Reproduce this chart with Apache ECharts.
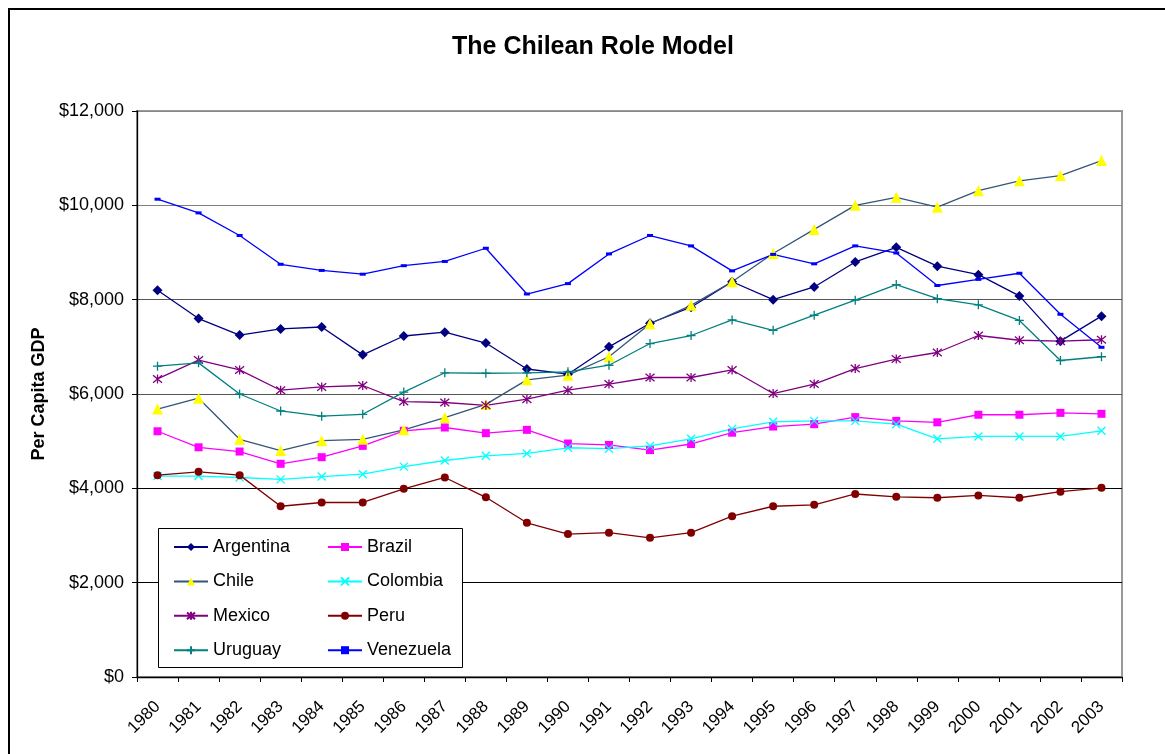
<!DOCTYPE html>
<html>
<head>
<meta charset="utf-8">
<title>The Chilean Role Model</title>
<script src="https://cdn.jsdelivr.net/npm/echarts@6/dist/echarts.min.js"></script>
<style>
  html, body { margin: 0; padding: 0; background: #fff; }
  #chart { width: 1165px; height: 754px; }
</style>
</head>
<body>
<div id="chart"></div>
<script>
// Per capita GDP (US$), 1980-2003
const years = ['1980','1981','1982','1983','1984','1985','1986','1987','1988','1989','1990','1991',
               '1992','1993','1994','1995','1996','1997','1998','1999','2000','2001','2002','2003'];

const argentina = [8200,7600,7250,7380,7420,6830,7230,7310,7080,6530,6420,7000,
                   7500,7840,8380,8000,8270,8800,9110,8710,8530,8080,7120,7650];
const brazil    = [5210,4870,4780,4520,4660,4900,5220,5290,5170,5240,4950,4920,
                   4810,4940,5180,5310,5360,5510,5430,5400,5560,5560,5600,5580];
const chile     = [5680,5910,5040,4800,5010,5040,5240,5500,5780,6300,6400,6790,
                   7490,7880,8380,8980,9490,10000,10170,9960,10310,10520,10630,10950];
const colombia  = [4260,4260,4230,4190,4250,4300,4460,4590,4690,4740,4860,4840,
                   4900,5050,5260,5410,5430,5430,5360,5050,5100,5100,5100,5220];
const mexico    = [6320,6720,6510,6080,6150,6180,5840,5820,5760,5890,6080,6210,
                   6350,6350,6510,6010,6210,6540,6740,6880,7240,7140,7120,7150];
const peru      = [4280,4350,4280,3620,3700,3700,3990,4230,3810,3270,3030,3060,
                   2950,3060,3410,3620,3650,3880,3820,3800,3850,3800,3930,4010];
const uruguay   = [6590,6660,6000,5640,5530,5570,6040,6450,6440,6450,6470,6610,
                   7070,7240,7570,7350,7670,7990,8320,8020,7890,7560,6710,6790];
const venezuela = [10130,9840,9360,8750,8620,8540,8720,8810,9090,8120,8340,8970,
                   9360,9140,8610,8960,8760,9140,8990,8300,8430,8560,7690,6990];

const yTicks = [0, 2000, 4000, 6000, 8000, 10000, 12000];

const FONT = '"Liberation Sans", Arial, sans-serif';

// stroked marker outlines
const X_MARK = 'path://M0,0L10,10M10,0L0,10';
const STAR_MARK = 'path://M0,0L10,10M10,0L0,10M5,-1L5,11';
const PLUS_MARK = 'path://M5,0L5,10M0,5L10,5';

function lineSeries(name, data, lineColor, symbol, size, itemStyle) {
  return {
    name: name,
    type: 'line',
    data: data,
    symbol: symbol,
    symbolSize: size,
    showAllSymbol: true,
    lineStyle: { color: lineColor, width: 1.3 },
    itemStyle: itemStyle,
    emphasis: { disabled: true },
    z: 3
  };
}

const series = [
  lineSeries('Argentina', argentina, '#000080', 'diamond', 10, { color: '#000080' }),
  lineSeries('Brazil', brazil, '#FF00FF', 'rect', 8, { color: '#FF00FF' }),
  lineSeries('Chile', chile, '#34557a', 'triangle', 11, { color: '#FFFF00' }),
  lineSeries('Colombia', colombia, '#00FFFF', X_MARK, 8, { color: 'transparent', borderColor: '#00FFFF', borderWidth: 1.3 }),
  lineSeries('Mexico', mexico, '#800080', STAR_MARK, 9, { color: 'transparent', borderColor: '#800080', borderWidth: 1.3 }),
  lineSeries('Peru', peru, '#800000', 'circle', 8, { color: '#800000' }),
  lineSeries('Uruguay', uruguay, '#008080', PLUS_MARK, 9, { color: 'transparent', borderColor: '#008080', borderWidth: 1.3 }),
  lineSeries('Venezuela', venezuela, '#0000FF', 'rect', [6, 3], { color: '#0000FF' })
];

const legendCommon = {
  orient: 'vertical',
  top: 537,
  padding: 0,
  itemWidth: 34,
  itemHeight: 10,
  itemGap: 14.4,
  selectedMode: false,
  z: 30,
  textStyle: { fontFamily: FONT, fontSize: 18, color: '#000', lineHeight: 20 }
};

const chart = echarts.init(document.getElementById('chart'), null, { renderer: 'canvas' });

chart.setOption({
  animation: false,
  backgroundColor: '#fff',
  title: {
    text: 'The Chilean Role Model',
    left: 452,
    top: 35,
    padding: 0,
    textStyle: { fontFamily: FONT, fontSize: 25, fontWeight: 'bold', color: '#000' }
  },
  legend: [
    Object.assign({}, legendCommon, { left: 173, data: ['Argentina', 'Chile', 'Mexico', 'Uruguay'] }),
    Object.assign({}, legendCommon, { left: 327, data: ['Brazil', 'Colombia', 'Peru', 'Venezuela'] })
  ],
  grid: {
    left: 137, right: 43, top: 111, bottom: 77,
    show: true, borderColor: '#999', borderWidth: 2, backgroundColor: 'transparent'
  },
  xAxis: {
    type: 'category',
    data: years,
    boundaryGap: true,
    axisLine: { lineStyle: { color: '#000', width: 1.3 } },
    axisTick: { show: true, interval: 0, length: 5, lineStyle: { color: '#000' } },
    axisLabel: { interval: 0, rotate: 45, margin: 27, fontFamily: FONT, fontSize: 17, color: '#000' },
    splitLine: { show: false }
  },
  yAxis: {
    type: 'value',
    min: yTicks[0],
    max: yTicks[yTicks.length - 1],
    interval: 2000,
    name: 'Per Capita GDP',
    nameLocation: 'middle',
    nameGap: 89,
    nameTextStyle: { fontFamily: FONT, fontSize: 18, fontWeight: 'bold', color: '#000' },
    axisLine: { show: true, lineStyle: { color: '#000', width: 1.3 } },
    axisTick: { show: true, length: 5, lineStyle: { color: '#000' } },
    axisLabel: {
      margin: 13,
      fontFamily: FONT, fontSize: 18, color: '#000',
      formatter: v => '$' + String(v).replace(/\B(?=(\d{3})+(?!\d))/g, ',')
    },
    splitLine: {
      show: true,
      lineStyle: { color: ['#000', '#000', '#000', '#555', '#555', '#808080', '#888'], width: 1.2 }
    }
  },
  graphic: [
    {
      type: 'rect',
      z: 20,
      shape: { x: 158.5, y: 528.5, width: 304, height: 139 },
      style: { fill: '#fff', stroke: '#000', lineWidth: 1 }
    },
    {
      type: 'rect',
      z: 40,
      silent: true,
      shape: { x: 9, y: 9, width: 1200, height: 800 },
      style: { fill: 'none', stroke: '#000', lineWidth: 2 }
    }
  ],
  series: series
});
</script>
</body>
</html>
